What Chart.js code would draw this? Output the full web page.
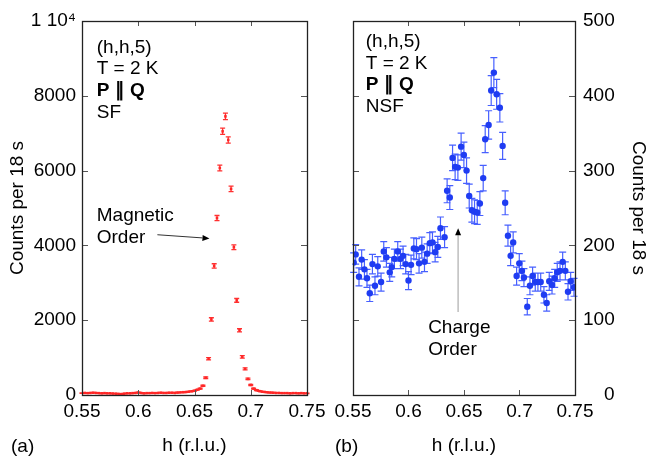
<!DOCTYPE html>
<html><head><meta charset="utf-8">
<script src="https://cdn.jsdelivr.net/npm/chart.js@4.4.0/dist/chart.umd.min.js"></script>
<style>
html,body{margin:0;padding:0;background:#fff;}
#wrap{position:relative;width:650px;height:463px;overflow:hidden;background:#fff;font-family:"Liberation Sans",Arial,sans-serif;}
canvas{position:absolute;left:0;top:0;}
.plab{position:absolute;font-size:19px;color:#000;line-height:22px;white-space:nowrap;}
</style></head><body>
<div id="wrap">
<canvas id="cA" width="650" height="463"></canvas>
<canvas id="cB" width="650" height="463"></canvas>
<div class="plab" style="left:11px;top:435px">(a)</div>
<div class="plab" style="left:335px;top:435px">(b)</div>
</div>
<script>
// ---------- data ----------
const xTickVals = [0.55, 0.6, 0.65, 0.7, 0.75];
const xTickLabels = ['0.55', '0.6', '0.65', '0.7', '0.75'];
const yTickValsA = [0, 2000, 4000, 6000, 8000, 10000];
const yTickLabelsA = ['0', '2000', '4000', '6000', '8000', '1 10\u2074'];
const yTickValsB = [0, 100, 200, 300, 400, 500];
const yTickLabelsB = ['    0', '100', '200', '300', '400', '500'];

// (a) spin-flip, P || Q
const hLeft = [0.55,0.5525,0.555,0.5575,0.56,0.5625,0.565,0.5675,0.57,0.5725,0.575,0.5775,0.58,0.5825,0.585,0.5875,0.59,0.5925,0.595,0.5975,0.6,0.6025,0.605,0.6075,0.61,0.6125,0.615,0.6175,0.62,0.6225,0.625,0.6275,0.63,0.6325,0.635,0.6375,0.64,0.6425,0.645,0.6475,0.65,0.6525,0.655,0.6575,0.66,0.6625,0.665,0.6675,0.67,0.6725,0.675,0.6775,0.68,0.6825,0.685,0.6875,0.69,0.6925,0.695,0.6975,0.7,0.7025,0.705,0.7075,0.71,0.7125,0.715,0.7175,0.72,0.7225,0.725,0.7275,0.73,0.7325,0.735,0.7375,0.74,0.7425,0.745,0.7475,0.75];
const countsLeft = [50,55,50,55,60,55,50,45,50,45,45,40,35,30,25,35,45,45,50,55,65,55,45,50,50,55,50,55,60,55,55,60,60,55,65,70,75,80,90,100,115,140,170,245,460,970,2020,3450,4730,6070,7050,7450,6820,5510,3950,2530,1730,1020,700,430,270,170,130,105,90,80,70,65,60,55,55,50,50,50,45,50,50,45,50,45,45];
const errLeft = [7,7,7,7,8,7,7,7,7,7,7,6,6,6,5,6,7,7,7,7,8,7,7,7,7,7,7,7,8,7,7,8,8,7,8,8,9,9,9,10,11,12,13,16,21,31,45,59,69,78,84,86,83,74,63,50,42,32,26,21,16,13,11,10,9,9,8,8,8,7,7,7,7,7,7,7,7,7,7,7,7];

// (b) non-spin-flip, P || Q
const hRight = [0.5506,0.5524,0.5554,0.5578,0.5603,0.5626,0.5651,0.5675,0.5698,0.5723,0.5753,0.5777,0.5801,0.5831,0.5849,0.5873,0.5903,0.5928,0.5951,0.5975,0.6,0.6023,0.6048,0.6072,0.6095,0.612,0.6144,0.6168,0.6192,0.6216,0.624,0.6264,0.6288,0.6325,0.6348,0.6372,0.6397,0.642,0.6445,0.6474,0.6499,0.6523,0.6547,0.6571,0.6595,0.6619,0.6643,0.6673,0.6691,0.6722,0.6745,0.6769,0.6794,0.6823,0.6848,0.6871,0.6896,0.692,0.6943,0.6974,0.6998,0.7022,0.704,0.707,0.7094,0.7118,0.7142,0.7166,0.7191,0.722,0.7245,0.7268,0.7293,0.7317,0.734,0.7365,0.7389,0.7413,0.7437,0.7461,0.7491];
const countsRight = [177,188,158,181,168,156,136,175,146,172,151,192,184,164,171,182,192,182,186,175,153,174,196,195,176,197,178,189,203,204,191,198,223,211,273,264,317,305,304,332,321,300,266,247,245,244,256,290,342,361,407,431,402,384,333,257,213,186,204,159,176,166,157,118,146,159,151,151,151,134,123,152,147,156,164,166,178,166,138,152,144];
const errRight = [13,13,12,13,13,12,11,13,12,13,12,13,13,12,13,13,13,13,13,13,12,13,14,14,13,14,13,13,14,14,13,14,15,14,16,16,17,17,17,18,17,17,16,16,16,16,16,17,18,19,20,20,20,19,18,16,14,13,14,12,13,13,12,11,12,12,12,12,12,11,11,12,12,12,12,12,13,12,11,12,12];

// ---------- helpers ----------
Chart.defaults.font.family = '"Liberation Sans", Arial, Helvetica, sans-serif';
Chart.defaults.font.size = 19;
Chart.defaults.color = '#000';

function errPlugin(errs, color, cap, lw) {
  return {
    id: 'errbars',
    beforeDatasetsDraw(chart) {
      const ds = chart.data.datasets[0];
      const xs = chart.scales.x, ys = chart.scales.y, ctx = chart.ctx;
      ctx.save();
      ctx.strokeStyle = color; ctx.lineWidth = lw;
      ctx.beginPath();
      ds.data.forEach((p, i) => {
        const e = errs[i];
        const px = xs.getPixelForValue(p.x);
        const y1 = ys.getPixelForValue(p.y - e), y2 = ys.getPixelForValue(p.y + e);
        const c = cap / 2;
        ctx.moveTo(px, y1); ctx.lineTo(px, y2);
        ctx.moveTo(px - c, y1); ctx.lineTo(px + c, y1);
        ctx.moveTo(px - c, y2); ctx.lineTo(px + c, y2);
      });
      ctx.stroke();
      ctx.restore();
    }
  };
}

function framePlugin(xv, yv) {
  return {
    id: 'frame',
    afterDraw(chart) {
      const {ctx, chartArea: a} = chart;
      const x = chart.scales.x, y = chart.scales.y;
      ctx.save();
      ctx.strokeStyle = '#555'; ctx.lineWidth = 1;
      ctx.beginPath();
      xv.forEach(v => {
        if (v <= x.min + 1e-9 || v >= x.max - 1e-9) return;
        const px = Math.round(x.getPixelForValue(v)) + 0.5;
        ctx.moveTo(px, a.bottom); ctx.lineTo(px, a.bottom - 5);
        ctx.moveTo(px, a.top); ctx.lineTo(px, a.top + 5);
      });
      yv.forEach(v => {
        if (v <= y.min || v >= y.max) return;
        const py = Math.round(y.getPixelForValue(v)) + 0.5;
        ctx.moveTo(a.left, py); ctx.lineTo(a.left + 6, py);
        ctx.moveTo(a.right, py); ctx.lineTo(a.right - 6, py);
      });
      ctx.stroke();
      ctx.strokeStyle = '#222'; ctx.lineWidth = 1.3;
      ctx.strokeRect(Math.round(a.left) + 0.5, Math.round(a.top) + 0.5, Math.round(a.right - a.left), Math.round(a.bottom - a.top));
      ctx.restore();
    }
  };
}

function notePlugin(texts, arrows) {
  return {
    id: 'notes',
    afterDraw(chart) {
      const ctx = chart.ctx, x = chart.scales.x, y = chart.scales.y;
      ctx.save();
      ctx.fillStyle = '#000';
      ctx.textBaseline = 'middle';
      ctx.textAlign = 'left';
      texts.forEach(t => {
        ctx.font = (t.bold ? 'bold ' : '') + '19px "Liberation Sans", Arial, sans-serif';
        ctx.fillText(t.text, x.getPixelForValue(t.x), y.getPixelForValue(t.y));
      });
      arrows.forEach(ar => {
        const x1 = x.getPixelForValue(ar.x1), y1 = y.getPixelForValue(ar.y1);
        const x2 = x.getPixelForValue(ar.x2), y2 = y.getPixelForValue(ar.y2);
        const ang = Math.atan2(y2 - y1, x2 - x1);
        const L = 7, W = 3;
        const bx = x2 - L * Math.cos(ang), by = y2 - L * Math.sin(ang);
        ctx.strokeStyle = ar.color; ctx.lineWidth = ar.width;
        ctx.beginPath(); ctx.moveTo(x1, y1); ctx.lineTo(bx, by); ctx.stroke();
        ctx.fillStyle = '#000';
        ctx.beginPath();
        ctx.moveTo(x2, y2);
        ctx.lineTo(bx - W * Math.sin(ang), by + W * Math.cos(ang));
        ctx.lineTo(bx + W * Math.sin(ang), by - W * Math.cos(ang));
        ctx.closePath(); ctx.fill();
      });
      ctx.restore();
    }
  };
}

function xScale() {
  return {
    type: 'linear', position: 'bottom', min: 0.55, max: 0.75,
    afterBuildTicks: s => { s.ticks = xTickVals.map(v => ({value: v})); },
    ticks: {callback: (v, i) => xTickLabels[i], padding: 5, maxRotation: 0, autoSkip: false, color: '#000', font: {size: 19}},
    grid: {display: false, drawTicks: false},
    border: {display: false},
    title: {display: true, text: 'h (r.l.u.)', color: '#000', font: {size: 19}, padding: {top: 0, bottom: 6}},
    afterFit: s => { s.height = 68; }
  };
}

// ---------- chart (a) ----------
new Chart(document.getElementById('cA'), {
  type: 'scatter',
  data: {datasets: [{
    data: hLeft.map((h, i) => ({x: h, y: countsLeft[i]})),
    pointStyle: 'rect', pointRadius: 1.8, pointBackgroundColor: '#ff2626', pointBorderWidth: 0, showLine: false
  }]},
  options: {
    responsive: false, animation: false, devicePixelRatio: 1,
    layout: {padding: {left: 0, top: 21, right: 343, bottom: 0}},
    plugins: {legend: {display: false}, tooltip: {enabled: false}},
    scales: {
      x: xScale(),
      y: {
        type: 'linear', position: 'left', min: 0, max: 10000,
        afterBuildTicks: s => { s.ticks = yTickValsA.map(v => ({value: v})); },
        ticks: {callback: (v, i) => yTickLabelsA[i], padding: 6, color: '#000', font: {size: 19}},
        grid: {display: false, drawTicks: false},
        border: {display: false},
        title: {display: true, text: 'Counts per 18 s', color: '#000', font: {size: 19}, padding: {top: 6, bottom: 0}},
        afterFit: s => { s.width = 82; }
      }
    }
  },
  plugins: [
    errPlugin(errLeft, '#ff3030', 5, 1.3),
    framePlugin(xTickVals, yTickValsA),
    notePlugin([
      {text: '(h,h,5)', x: 0.5631, y: 9288},
      {text: 'T = 2 K', x: 0.5631, y: 8720},
      {text: 'P \u2225 Q', x: 0.5631, y: 8133, bold: true},
      {text: 'SF', x: 0.5631, y: 7555},
      {text: 'Magnetic', x: 0.5631, y: 4800},
      {text: 'Order', x: 0.5631, y: 4195}
    ], [
      {x1: 0.617, y1: 4285, x2: 0.6633, y2: 4187, color: '#333', width: 1}
    ])
  ]
});

// ---------- chart (b) ----------
new Chart(document.getElementById('cB'), {
  type: 'scatter',
  data: {datasets: [{
    data: hRight.map((h, i) => ({x: h, y: countsRight[i]})),
    pointStyle: 'circle', pointRadius: 3.2, pointBackgroundColor: '#1f3cf2', pointBorderWidth: 0, showLine: false
  }]},
  options: {
    responsive: false, animation: false, devicePixelRatio: 1,
    layout: {padding: {left: 353, top: 21, right: 0, bottom: 0}},
    plugins: {legend: {display: false}, tooltip: {enabled: false}},
    scales: {
      x: xScale(),
      y: {
        type: 'linear', position: 'right', min: 0, max: 500,
        afterBuildTicks: s => { s.ticks = yTickValsB.map(v => ({value: v})); },
        ticks: {callback: (v, i) => yTickLabelsB[i], padding: 8, color: '#000', font: {size: 19}},
        grid: {display: false, drawTicks: false},
        border: {display: false},
        title: {display: true, text: 'Counts per 18 s', color: '#000', font: {size: 19}, padding: {top: 0, bottom: 0}},
        afterFit: s => { s.width = 75; }
      }
    }
  },
  plugins: [
    errPlugin(errRight, '#4760ff', 7, 1.2),
    framePlugin(xTickVals, yTickValsB),
    notePlugin([
      {text: '(h,h,5)', x: 0.5615, y: 472},
      {text: 'T = 2 K', x: 0.5615, y: 443},
      {text: 'P \u2225 Q', x: 0.5615, y: 415, bold: true},
      {text: 'NSF', x: 0.5615, y: 385},
      {text: 'Charge', x: 0.6177, y: 90},
      {text: 'Order', x: 0.6177, y: 61}
    ], [
      {x1: 0.6447, y1: 111, x2: 0.6447, y2: 223, color: '#bdbdbd', width: 1.5}
    ])
  ]
});
</script>
</body></html>
